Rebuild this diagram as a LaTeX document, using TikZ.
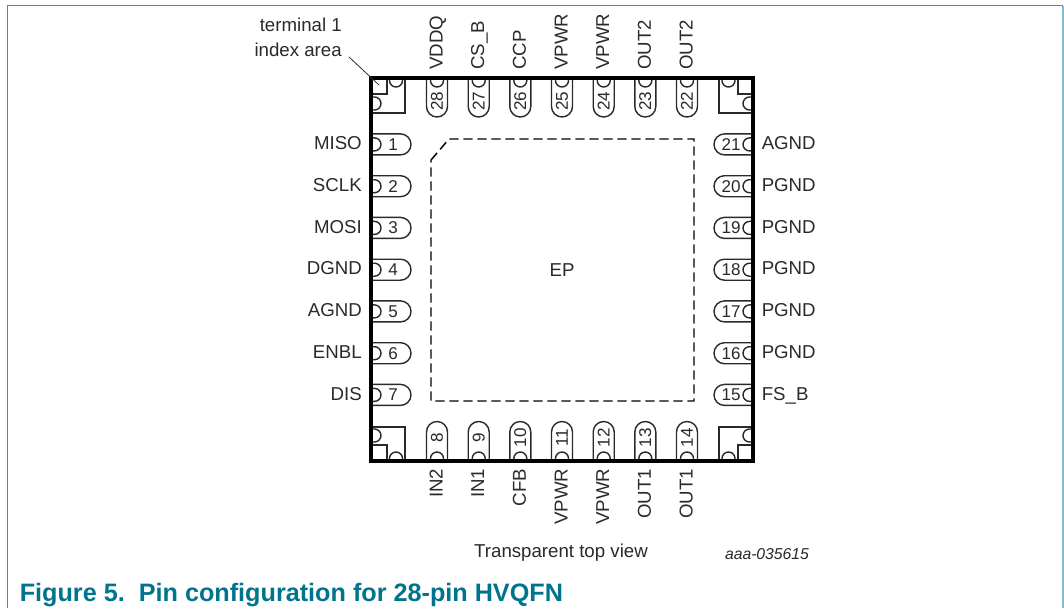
\documentclass[tikz,border=0pt]{standalone}
\usepackage{fontspec}
\setmainfont{Liberation Sans}
\definecolor{nxp}{HTML}{00748C}
\definecolor{framec}{HTML}{3F8FA3}
\definecolor{framer}{HTML}{86BCC9}
\definecolor{ink}{HTML}{2A2A2A}
\tikzset{
  lbl/.style={font=\fontsize{14}{16}\selectfont,text=ink,inner sep=0pt},
  num/.style={font=\fontsize{12.8}{15}\selectfont,text=ink,inner sep=0pt},
  pinline/.style={draw=ink,line width=1.05pt},
  body/.style={draw=black,line width=2.9pt,line join=miter},
  dashbox/.style={draw=black,line width=1.1pt,dash pattern=on 7pt off 3.5pt},
}
\begin{document}
\begin{tikzpicture}[x=0.75pt,y=-0.75pt]
\useasboundingbox (0,0) rectangle (1064,608);
\fill[white] (0,0) rectangle (1064,608);
\draw[framec,line width=0.9pt] (7.5,608) -- (7.5,5.5) -- (1063,5.5);
\draw[framer,line width=0.9pt] (1063,5.5) -- (1063,608);
% corner details
\draw[pinline] (371,113) -- (405,113) -- (405,78) (371,94) -- (387,94) -- (387,78);
\draw[pinline] (753,113) -- (719,113) -- (719,78) (753,94) -- (738,94) -- (738,78);
\draw[pinline] (371,427) -- (405,427) -- (405,461) (371,445) -- (387,445) -- (387,461);
\draw[pinline] (753,427) -- (719,427) -- (719,461) (753,445) -- (738,445) -- (738,461);
% corner stubs, left and right edges
\foreach \cy in {103.5,435.5}{
  \draw[pinline] (371,\cy-6.5) -- (374.5,\cy-6.5) arc[start angle=90,end angle=-90,radius=6.5*0.75pt] -- (371,\cy+6.5);
  \draw[pinline] (753,\cy-6.5) -- (749.5,\cy-6.5) arc[start angle=90,end angle=270,radius=6.5*0.75pt] -- (753,\cy+6.5);
}
% corner stubs, top and bottom edges
\foreach \cx in {396,728.5}{
  \draw[pinline] (\cx-6.5,78) -- (\cx-6.5,80.5) arc[start angle=180,end angle=360,radius=6.5*0.75pt] -- (\cx+6.5,78);
  \draw[pinline] (\cx-6.5,461) -- (\cx-6.5,458.5) arc[start angle=180,end angle=0,radius=6.5*0.75pt] -- (\cx+6.5,461);
}
% left pins 1-7
\foreach \n/\name/\y in {1/MISO/144.4,2/SCLK/186.2,3/MOSI/227.9,4/DGND/269.7,5/AGND/311.4,6/ENBL/353.2,7/DIS/394.9}{
  \draw[pinline] (371,\y-10.5) -- (400.5,\y-10.5) arc[start angle=90,end angle=-90,radius=10.5*0.75pt] -- (371,\y+10.5);
  \draw[pinline] (371,\y-6.5) -- (374.5,\y-6.5) arc[start angle=90,end angle=-90,radius=6.5*0.75pt] -- (371,\y+6.5);
  \node[num] (p\n) at (393,\y) {\n};
  \node[lbl,anchor=base east] (l\n) at (362,\y+5.2) {\name};
}
% right pins 15-21
\foreach \n/\name/\y in {15/FS\_B/394.9,16/PGND/353.2,17/PGND/311.4,18/PGND/269.7,19/PGND/227.9,20/PGND/186.2,21/AGND/144.4}{
  \draw[pinline] (753,\y-10.5) -- (724.5,\y-10.5) arc[start angle=90,end angle=270,radius=10.5*0.75pt] -- (753,\y+10.5);
  \draw[pinline] (753,\y-6.5) -- (749.5,\y-6.5) arc[start angle=90,end angle=270,radius=6.5*0.75pt] -- (753,\y+6.5);
  \node[num] (p\n) at (731,\y) {\n};
  \node[lbl,anchor=base west] (l\n) at (761.5,\y+5.2) {\name};
}
% top pins 28-22
\foreach \n/\name/\x in {28/VDDQ/437,27/CS\_B/478.7,26/CCP/520.3,25/VPWR/562,24/VPWR/603.7,23/OUT2/645.3,22/OUT2/687}{
  \draw[pinline] (\x-10.5,78) -- (\x-10.5,106.5) arc[start angle=180,end angle=360,radius=10.5*0.75pt] -- (\x+10.5,78);
  \draw[pinline] (\x-6.5,78) -- (\x-6.5,80.5) arc[start angle=180,end angle=360,radius=6.5*0.75pt] -- (\x+6.5,78);
  \node[num,rotate=90] (p\n) at (\x,101) {\n};
  \node[lbl,rotate=90,anchor=base west] (l\n) at (\x+5.5,70) {\name};
}
% bottom pins 8-14
\foreach \n/\name/\x in {8/IN2/437,9/IN1/478.7,10/CFB/520.3,11/VPWR/562,12/VPWR/603.7,13/OUT1/645.3,14/OUT1/687}{
  \draw[pinline] (\x-10.5,461) -- (\x-10.5,432) arc[start angle=180,end angle=0,radius=10.5*0.75pt] -- (\x+10.5,461);
  \draw[pinline] (\x-6.5,461) -- (\x-6.5,458.5) arc[start angle=180,end angle=0,radius=6.5*0.75pt] -- (\x+6.5,461);
  \node[num,rotate=90] (p\n) at (\x,437.5) {\n};
  \node[lbl,rotate=90,anchor=base east] (l\n) at (\x+5.5,468.5) {\name};
}
% body
\draw[body] (371,78) rectangle (753,461);
% exposed pad outline
\draw[dashbox] (431,160) -- (449,139) -- (694,139) -- (694,401) -- (431,401) -- cycle;
\node[lbl] (ep) at (562,270.5) {EP};
% labels
\node[lbl,anchor=east,align=right,font=\fontsize{14}{18.7}\selectfont] (term) at (342,37.5) {terminal 1\\index area};
\coordinate (leadstart) at (349,57);
\coordinate (leadend) at (379,85);
\draw[ink,line width=0.6pt] (leadstart) -- (leadend);
\node[lbl] (view) at (561,552.5) {Transparent top view};
\node[font=\fontsize{11.8}{14}\itshape\selectfont,text=ink,inner sep=0pt] (code) at (767,554) {aaa-035615};
\node[anchor=west,inner sep=0pt,text=nxp,font=\fontsize{18.9}{22}\bfseries\selectfont] (cap) at (19.5,595) {Figure 5.\ \ Pin configuration for 28-pin HVQFN};
\end{tikzpicture}
\end{document}
